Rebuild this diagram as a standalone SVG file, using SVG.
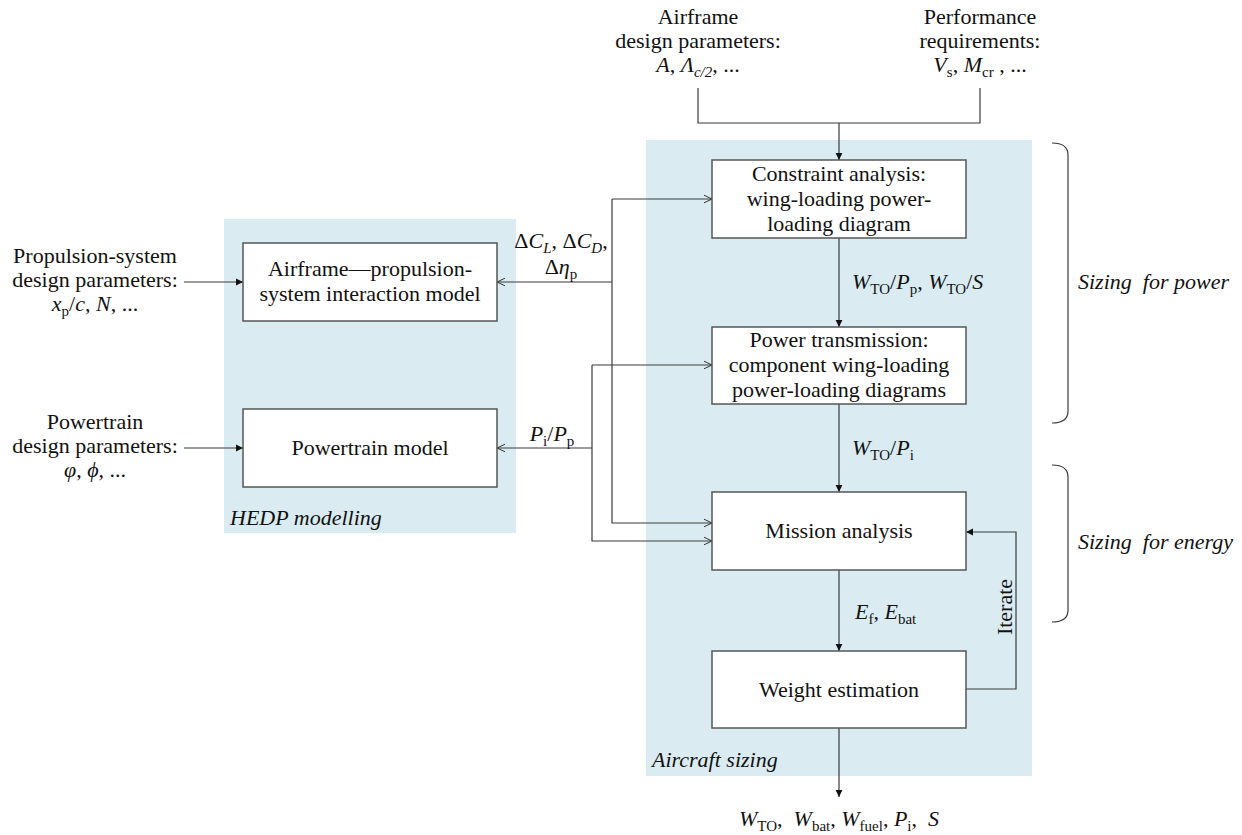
<svg xmlns="http://www.w3.org/2000/svg" width="1242" height="835" viewBox="0 0 1242 835" font-family="'Liberation Serif', serif">
<style>
text{font-family:'Liberation Serif',serif;font-size:22px;fill:#111;}
.c{text-anchor:middle;}
.i{font-style:italic;}
.s{font-size:15px;}
.panel{fill:#DAECF2;}
.box{fill:#fff;stroke:#555;stroke-width:1.5;}
.ln{fill:none;stroke:#3a3a3a;stroke-width:1.2;}
</style>
<defs>
<marker id="af" markerWidth="9" markerHeight="9" refX="7" refY="4" orient="auto" markerUnits="userSpaceOnUse"><path d="M0,0.6 L7,4 L0,7.4 z" fill="#111"/></marker>
<marker id="ao" markerWidth="10" markerHeight="10" refX="8" refY="5" orient="auto" markerUnits="userSpaceOnUse"><path d="M0,1.2 L8,5 L0,8.8" fill="none" stroke="#333" stroke-width="1"/></marker>
</defs>

<rect id="panel-hedp" class="panel" x="224" y="219" width="292" height="314"/>
<rect id="panel-sizing" class="panel" x="646" y="140" width="386" height="636"/>

<g id="connectors">
<path class="ln" d="M698,88 V123 H980 V88"/>
<path class="ln" d="M839,123 V160" marker-end="url(#af)"/>
<path class="ln" d="M184,282 H243" marker-end="url(#af)"/>
<path class="ln" d="M184,448 H243" marker-end="url(#af)"/>
<path class="ln" d="M839,238 V327" marker-end="url(#af)"/>
<path class="ln" d="M839,404 V492" marker-end="url(#af)"/>
<path class="ln" d="M839,570 V651" marker-end="url(#af)"/>
<path class="ln" d="M839,728 V797" marker-end="url(#af)"/>
<path class="ln" d="M966,689 H1016 V532 H966" marker-end="url(#af)"/>
<path class="ln" d="M612,199 H712" marker-end="url(#ao)"/>
<path class="ln" d="M612,282 H497" marker-end="url(#ao)"/>
<path class="ln" d="M612,199 V523 H712" marker-end="url(#ao)"/>
<path class="ln" d="M592,365 H712" marker-end="url(#ao)"/>
<path class="ln" d="M592,448 H497" marker-end="url(#ao)"/>
<path class="ln" d="M592,365 V541 H712" marker-end="url(#ao)"/>
</g>

<g id="braces">
<path class="ln" d="M1052,143 Q1068,143 1068,155 V411 Q1068,423 1052,423"/>
<path class="ln" d="M1052,465 Q1068,465 1068,477 V610 Q1068,622 1052,622"/>
</g>

<g id="airframe-params">
<text class="c" x="698" y="24">Airframe</text>
<text class="c" x="698" y="48">design parameters:</text>
<text class="c" x="698" y="72"><tspan class="i">A</tspan>, <tspan class="i">Λ</tspan><tspan class="s i" dy="5">c/2</tspan><tspan dy="-5">, ...</tspan></text>
</g>
<g id="performance-req">
<text class="c" x="980" y="24">Performance</text>
<text class="c" x="980" y="48">requirements:</text>
<text class="c" x="980" y="72"><tspan class="i">V</tspan><tspan class="s" dy="5">s</tspan><tspan dy="-5">, </tspan><tspan class="i">M</tspan><tspan class="s" dy="5">cr</tspan><tspan dy="-5"> , ...</tspan></text>
</g>
<g id="propulsion-params">
<text class="c" x="95" y="263">Propulsion-system</text>
<text class="c" x="95" y="287">design parameters:</text>
<text class="c" x="95" y="311"><tspan class="i">x</tspan><tspan class="s" dy="5">p</tspan><tspan dy="-5">/</tspan><tspan class="i">c</tspan>, <tspan class="i">N</tspan>, ...</text>
</g>
<g id="powertrain-params">
<text class="c" x="95" y="429">Powertrain</text>
<text class="c" x="95" y="453">design parameters:</text>
<text class="c" x="95" y="477"><tspan class="i">φ</tspan>, <tspan class="i">ϕ</tspan>, ...</text>
</g>

<g id="interaction-model">
<rect class="box" x="243" y="243" width="254" height="78"/>
<text class="c" x="370" y="276">Airframe—propulsion-</text>
<text class="c" x="370" y="301">system interaction model</text>
</g>
<g id="powertrain-model">
<rect class="box" x="243" y="409" width="254" height="78"/>
<text class="c" x="370" y="455">Powertrain model</text>
</g>
<text class="i" x="230" y="525">HEDP modelling</text>

<g id="constraint-analysis">
<rect class="box" x="712" y="160" width="254" height="78"/>
<text class="c" x="839" y="181">Constraint analysis:</text>
<text class="c" x="839" y="206">wing-loading power-</text>
<text class="c" x="839" y="231">loading diagram</text>
</g>
<g id="power-transmission">
<rect class="box" x="712" y="327" width="254" height="77"/>
<text class="c" x="839" y="347">Power transmission:</text>
<text class="c" x="839" y="372">component wing-loading</text>
<text class="c" x="839" y="397">power-loading diagrams</text>
</g>
<g id="mission-analysis">
<rect class="box" x="712" y="492" width="254" height="78"/>
<text class="c" x="839" y="538">Mission analysis</text>
</g>
<g id="weight-estimation">
<rect class="box" x="712" y="651" width="254" height="77"/>
<text class="c" x="839" y="697">Weight estimation</text>
</g>
<text class="i" x="652" y="767">Aircraft sizing</text>

<g id="labels">
<text class="c" x="561" y="248">Δ<tspan class="i">C</tspan><tspan class="s i" dy="5">L</tspan><tspan dy="-5">, Δ</tspan><tspan class="i">C</tspan><tspan class="s i" dy="5">D</tspan><tspan dy="-5">,</tspan></text>
<text class="c" x="561" y="274">Δ<tspan class="i">η</tspan><tspan class="s" dy="5">p</tspan></text>
<text class="c" x="552" y="441"><tspan class="i">P</tspan><tspan class="s" dy="5">i</tspan><tspan dy="-5">/</tspan><tspan class="i">P</tspan><tspan class="s" dy="5">p</tspan></text>
<text x="852" y="289"><tspan class="i">W</tspan><tspan class="s" dy="5">TO</tspan><tspan dy="-5">/</tspan><tspan class="i">P</tspan><tspan class="s" dy="5">p</tspan><tspan dy="-5">, </tspan><tspan class="i">W</tspan><tspan class="s" dy="5">TO</tspan><tspan dy="-5">/</tspan><tspan class="i">S</tspan></text>
<text x="852" y="455"><tspan class="i">W</tspan><tspan class="s" dy="5">TO</tspan><tspan dy="-5">/</tspan><tspan class="i">P</tspan><tspan class="s" dy="5">i</tspan></text>
<text x="855" y="619"><tspan class="i">E</tspan><tspan class="s" dy="5">f</tspan><tspan dy="-5">, </tspan><tspan class="i">E</tspan><tspan class="s" dy="5">bat</tspan></text>
<text transform="translate(1012,607) rotate(-90)" class="c">Iterate</text>
<text class="c" x="839" y="826" xml:space="preserve"><tspan class="i">W</tspan><tspan class="s" dy="5">TO</tspan><tspan dy="-5">,  </tspan><tspan class="i">W</tspan><tspan class="s" dy="5">bat</tspan><tspan dy="-5">, </tspan><tspan class="i">W</tspan><tspan class="s" dy="5">fuel</tspan><tspan dy="-5">, </tspan><tspan class="i">P</tspan><tspan class="s" dy="5">i</tspan><tspan dy="-5">,  </tspan><tspan class="i">S</tspan></text>
<text class="i" x="1078" y="289" xml:space="preserve">Sizing  for power</text>
<text class="i" x="1078" y="549" xml:space="preserve">Sizing  for energy</text>
</g>
</svg>
